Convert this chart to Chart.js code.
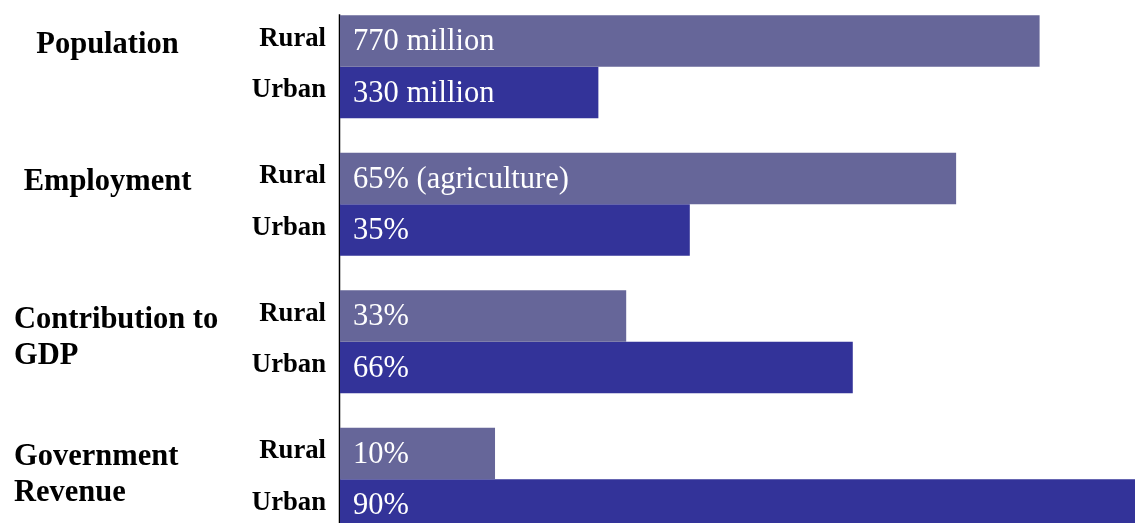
<!DOCTYPE html>
<html>
<head>
<meta charset="utf-8">
<script src="https://cdn.jsdelivr.net/npm/chart.js@4.4.1/dist/chart.umd.min.js"></script>
<style>
  html, body { margin: 0; padding: 0; background: #fff; overflow: hidden; }
  #wrap { width: 1135px; height: 523px; overflow: hidden; position: relative; }
  #chart { position: absolute; left: 0; top: -20px; }
</style>
</head>
<body>
<div id="wrap"><canvas id="chart" width="1135" height="568"></canvas></div>
<script>
// categories (multi-line names) and the two series
const categories = [['Population'], ['Employment'], ['Contribution to', 'GDP'], ['Government', 'Revenue']];
const seriesNames = ['Rural', 'Urban'];

// bar lengths (relative, longest bar = 100)
const ruralLength = [88, 77.5, 36, 19.5];
const urbanLength = [32.5, 44, 64.5, 100];

// text printed inside the bars
const ruralText = ['770 million', '65% (agriculture)', '33%', '10%'];
const urbanText = ['330 million', '35%', '66%', '90%'];

const seriesColors = ['#666699', '#333399'];
const barTexts = [ruralText, urbanText];

// draws the axis line, the row labels, the category names and the bar texts
const labelPlugin = {
  id: 'labels',
  beforeDatasetsDraw(chart) {
    const ctx = chart.ctx;
    const area = chart.chartArea;
    const first = chart.getDatasetMeta(0).data[0];
    ctx.save();
    ctx.strokeStyle = '#000';
    ctx.lineWidth = 1.5;
    ctx.beginPath();
    ctx.moveTo(area.left - 0.5, first.y - first.height / 2 - 1);
    ctx.lineTo(area.left - 0.5, area.bottom);
    ctx.stroke();
    ctx.restore();
  },
  afterDatasetsDraw(chart) {
    const ctx = chart.ctx;
    const area = chart.chartArea;
    ctx.save();

    chart.data.datasets.forEach((ds, i) => {
      const meta = chart.getDatasetMeta(i);
      meta.data.forEach((bar, j) => {
        // value text inside the bar
        ctx.font = '30.5px "Liberation Serif", "Times New Roman", serif';
        ctx.fillStyle = '#ffffff';
        ctx.textAlign = 'left';
        ctx.textBaseline = 'middle';
        ctx.fillText(barTexts[i][j], area.left + 13, bar.y + 1);

        // Rural / Urban label on the left of the axis
        ctx.font = 'bold 26.7px "Liberation Serif", "Times New Roman", serif';
        ctx.fillStyle = '#000';
        ctx.textAlign = 'right';
        ctx.fillText(seriesNames[i], area.left - 14, bar.y - 2);
      });
    });

    // category names, top aligned with the rural bar
    const ruralMeta = chart.getDatasetMeta(0);
    ctx.font = 'bold 30.5px "Liberation Serif", "Times New Roman", serif';
    ctx.fillStyle = '#000';
    ctx.textBaseline = 'alphabetic';
    categories.forEach((lines, j) => {
      const bar = ruralMeta.data[j];
      const top = bar.y - bar.height / 2;
      lines.forEach((line, k) => {
        const y = top + 37.5 + k * 36;
        if (lines.length > 1) {
          ctx.textAlign = 'left';
          ctx.fillText(line, 14, y);
        } else {
          ctx.textAlign = 'center';
          ctx.fillText(line, 107.5, y);
        }
      });
    });
    ctx.restore();
  }
};

const ctx = document.getElementById('chart').getContext('2d');
const chart = new Chart(ctx, {
  type: 'bar',
  data: {
    labels: categories,
    datasets: [
      { label: seriesNames[0], data: ruralLength, backgroundColor: seriesColors[0] },
      { label: seriesNames[1], data: urbanLength, backgroundColor: seriesColors[1] }
    ]
  },
  options: {
    indexAxis: 'y',
    responsive: false,
    animation: false,
    devicePixelRatio: 1,
    layout: { padding: { top: 18, bottom: 0, left: 0, right: 0 } },
    datasets: {
      bar: { barPercentage: 1.0, categoryPercentage: 0.749, borderWidth: 0 }
    },
    scales: {
      x: { display: false, min: 0, max: 100 },
      y: {
        display: true,
        ticks: { display: false },
        grid: { display: false },
        border: { display: false },
        afterFit(scale) { scale.width = 340; }
      }
    },
    plugins: {
      legend: { display: false },
      tooltip: { enabled: false }
    }
  },
  plugins: [labelPlugin]
});
</script>
</body>
</html>
